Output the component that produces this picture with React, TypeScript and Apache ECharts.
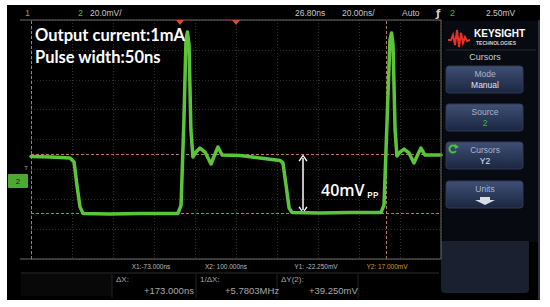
import React, { useEffect, useRef } from "react";
import * as echarts from "echarts";

// ---- data (time in ns, channel 2 voltage in mV) ----
const timeNs = [
  -73.2, -63.9, -54.2, -52.2, -50.8, -49.3, -47.8, -34.7, -20.0, -1.5,
  0.0, 1.4, 2.4, 3.1, 3.9, 4.8, 5.8, 7.3, 9.2, 11.7,
  14.6, 16.6, 18.0, 20.0, 28.8, 38.5, 48.3, 49.7, 51.2, 52.7,
  54.1, 67.8, 82.4, 97.5, 99.0, 100.5, 101.9, 102.7, 103.4, 104.4,
  105.3, 106.8, 108.8, 111.2, 113.6, 115.6, 117.0, 119.0, 126.8,
];
const ch2mV = [
  15.6, 15.3, 14.6, 11.9, -3.5, -18.2, -22.5, -22.9, -22.5, -22.5,
  -16.9, 40.0, 93.6, 99.0, 90.3, 33.4, 15.3, 18.6, 21.3, 18.6,
  10.6, 17.3, 22.0, 16.6, 16.3, 14.6, 12.9, 11.3, -3.5, -18.9,
  -21.9, -22.2, -21.9, -21.9, -16.9, 40.0, 93.6, 98.3, 90.3, 33.4,
  16.0, 18.6, 20.6, 18.0, 11.3, 17.3, 21.3, 16.6, 16.6,
];
const cursorXns = [-73, 100];
const cursorYmV = [-22.25, 17];
const xRange = [-73.2, 126.8];
const yRange = [-53, 107];
const nsPerDiv = 20;
const mVPerDiv = 20;
const arrowAt = { x: 59.5, top: 14.6, bottom: -20.2 };

const annotation = ["Output current:1mA", "Pulse width:50ns"];
const ppLabel = ["40mV", "PP"];
const headerLeft = ["1", "2", "20.0mV/"];
const headerRight = ["26.80ns", "20.00ns/", "Auto", "ƒ", "2", "2.50mV"];
const readouts = ["X1:-73.000ns", "X2: 100.000ns", "Y1: -22.250mV", "Y2: 17.000mV"];
const deltas = [
  ["ΔX:", "+173.000ns"],
  ["1/ΔX:", "+5.7803MHz"],
  ["ΔY(2):", "+39.250mV"],
];
const menuTitle = "Cursors";
const buttons = [
  ["Mode", "Manual"],
  ["Source", "2"],
  ["Cursors", "Y2"],
  ["Units", ""],
];

const UI = "Liberation Sans, Arial, sans-serif";
const GREEN = "#5cc43a";

function txt(x: number, y: number, text: string, size: number, fill: string, extra: any = {}) {
  const align = extra.align || "left";
  const valign = extra.valign || "middle";
  return {
    type: "text",
    x,
    y,
    z: 100,
    silent: true,
    style: {
      text,
      fill,
      fontSize: size,
      fontFamily: extra.family || UI,
      fontWeight: extra.weight || "normal",
      align,
      verticalAlign: valign,
      textAlign: align,
      textVerticalAlign: valign,
    },
  };
}

function line(x1: number, y1: number, x2: number, y2: number, stroke: string, w = 1, z = 50) {
  return { type: "line", z, silent: true, shape: { x1, y1, x2, y2 }, style: { stroke, lineWidth: w } };
}

export default function App() {
  const ref = useRef<HTMLDivElement>(null);
  useEffect(() => {
    if (!ref.current) return;
    const chart = echarts.init(ref.current, undefined, { renderer: "svg" });

    const g: any[] = [];
    // screen backdrop
    g.push({ type: "rect", z: -100, silent: true, shape: { x: 7, y: 5, width: 533, height: 295 }, style: { fill: "#000" } });
    // right panel
    g.push({ type: "rect", z: -90, silent: true, shape: { x: 443, y: 21, width: 96, height: 221 }, style: { fill: "#070a10" } });
    g.push(line(539, 20, 539, 300, "#5a5e66", 1, -80));
    g.push({ type: "rect", z: -90, silent: true, shape: { x: 441, y: 241, width: 88, height: 52, r: [0, 0, 4, 4] }, style: { fill: "#1a2030" } });
    // bottom area boxes
    g.push({ type: "rect", z: -90, silent: true, shape: { x: 21, y: 274, width: 91, height: 22 }, style: { fill: "#080808" } });
    g.push(line(21, 273, 439, 273, "#2c2c2c"));
    [112, 196, 277, 358].forEach((x) => g.push(line(x, 274, x, 298, "#222")));

    // grid frame
    g.push(line(20, 20, 441, 20, "#6a6a6a"));
    g.push(line(20, 259, 441, 259, "#6a6a6a"));
    g.push(line(441, 20, 441, 259, "#6a6a6a"));

    // header
    g.push(txt(25, 13, headerLeft[0], 9, "#9a9a40"));
    g.push(txt(78, 13, headerLeft[1], 9, "#3cba3c"));
    g.push(txt(90, 13, headerLeft[2], 8.5, "#c8c8c8"));
    g.push(txt(295, 13, headerRight[0], 8.5, "#c8c8c8"));
    g.push(txt(342, 13, headerRight[1], 8.5, "#c8c8c8"));
    g.push(txt(402, 13, headerRight[2], 8.5, "#c8c8c8"));
    g.push(txt(436, 13, headerRight[3], 10, "#d0d0d0", { family: "DejaVu Sans, sans-serif", weight: "bold" }));
    g.push(txt(450, 13, headerRight[4], 9, "#3cba3c"));
    g.push(txt(486, 13, headerRight[5], 8.5, "#c8c8c8"));

    // top markers
    [180, 236].forEach((x) =>
      g.push({ type: "polygon", z: 60, silent: true, shape: { points: [[x - 4, 20], [x + 4, 20], [x, 25]] }, style: { fill: "#d0502a" } })
    );

    // ground / trigger marker on left
    g.push({ type: "rect", z: 60, silent: true, shape: { x: 8, y: 174, width: 20, height: 14, r: 1 }, style: { fill: "#4caa30" } });
    g.push(txt(18, 181, "2", 8, "#0d2a08", { align: "center" }));
    g.push(txt(26, 168, "T", 6, "#9a9a9a", { align: "center" }));

    // annotations
    g.push(txt(35, 35, annotation[0], 16.5, "#ffffff", { family: "Lato, sans-serif", weight: "bold" }));
    g.push(txt(35, 57, annotation[1], 16.5, "#ffffff", { family: "Lato, sans-serif", weight: "bold" }));
    g.push(txt(321, 190, ppLabel[0], 16, "#ffffff", { family: "Open Sans, sans-serif", weight: "600" }));
    g.push(txt(367, 194, ppLabel[1], 9.5, "#ffffff", { family: "Open Sans, sans-serif", weight: "600" }));

    // cursor readouts
    g.push(txt(151, 266, readouts[0], 6.5, "#b8b8b8", { align: "center" }));
    g.push(txt(226, 266, readouts[1], 6.5, "#b8b8b8", { align: "center" }));
    g.push(txt(316, 266, readouts[2], 6.5, "#b8b8b8", { align: "center" }));
    g.push(txt(387, 266, readouts[3], 6.5, "#d8962e", { align: "center" }));
    const dx = [116, 200, 281];
    const vx = [144, 225, 309];
    deltas.forEach((d, i) => {
      g.push(txt(dx[i], 279, d[0], 8, "#a8a8a8"));
      g.push(txt(vx[i], 290, d[1], 9.5, "#a8a8a8"));
    });

    // Keysight logo
    g.push({
      type: "polyline", z: 60, silent: true,
      shape: { points: [[448, 40], [451, 40], [453, 35], [455, 45], [457, 30], [459, 47], [461, 33], [463, 43], [465, 37], [467, 41], [470, 40]] },
      style: { stroke: "#e8302a", lineWidth: 2, fill: null },
    });
    g.push(txt(474, 33, "KEYSIGHT", 10, "#ffffff", { weight: "bold" }));
    g.push(txt(476, 43, "TECHNOLOGIES", 5, "#d0d0d0", { weight: "bold" }));
    g.push(line(446, 50, 536, 50, "#262b36"));
    g.push(txt(485, 57, menuTitle, 9, "#c8ccd4", { align: "center" }));

    const tops = [66, 104, 142, 181];
    buttons.forEach((b, i) => {
      const t = tops[i];
      g.push({
        type: "rect", z: 40, silent: true,
        shape: { x: 446, y: t, width: 77, height: 27, r: 3 },
        style: {
          fill: new echarts.graphic.LinearGradient(0, 0, 0, 1, [
            { offset: 0, color: "#3f5075" },
            { offset: 1, color: "#1b2640" },
          ]),
          stroke: "#2e3a55",
          lineWidth: 1,
        },
      });
      g.push(txt(485, t + 8, b[0], 8.5, "#aab4c8", { align: "center" }));
      if (b[1]) g.push(txt(485, t + 19, b[1], 8.5, i === 1 ? "#3cba3c" : "#e0e4ec", { align: "center" }));
    });
    // cursor knob icon
    g.push({ type: "arc", z: 60, silent: true, shape: { cx: 453, cy: 149, r: 3.5, startAngle: 0.6, endAngle: 5.6 }, style: { stroke: "#4cc23a", lineWidth: 2, fill: null } });
    g.push({ type: "polygon", z: 60, silent: true, shape: { points: [[455, 144], [459, 147], [455, 149]] }, style: { fill: "#4cc23a" } });
    // down arrow in Units
    g.push({
      type: "polygon", z: 60, silent: true,
      shape: { points: [[480, 197], [490, 197], [490, 200], [495, 200], [485, 205], [475, 200], [480, 200]] },
      style: { fill: "#d8dce4" },
    });

    const chevron = "path://M0,8 L5,0 L10,8 L8.6,9 L5,2.4 L1.4,9 Z";

    const option: any = {
      animation: false,
      backgroundColor: "#ffffff",
      grid: { left: 31, top: 20, width: 410, height: 239 },
      xAxis: {
        type: "value", min: xRange[0], max: xRange[1], interval: nsPerDiv,
        axisLine: { show: false }, axisTick: { show: false }, axisLabel: { show: false },
        splitLine: { show: true, lineStyle: { color: "#2e2e2e", type: [1, 2], width: 1 } },
      },
      yAxis: {
        type: "value", min: yRange[0], max: yRange[1], interval: mVPerDiv,
        axisLine: { show: false }, axisTick: { show: false }, axisLabel: { show: false },
        splitLine: { show: true, lineStyle: { color: "#2e2e2e", type: [1, 2], width: 1 } },
      },
      series: [
        {
          type: "line",
          data: timeNs.map((t, i) => [t, ch2mV[i]]),
          showSymbol: false,
          symbol: "none",
          z: 5,
          lineStyle: { color: GREEN, width: 3.5, join: "round", cap: "round" },
          markLine: {
            silent: true,
            symbol: ["none", "none"],
            label: { show: false },
            lineStyle: { color: "#b4785c", type: [3, 2], width: 1 },
            data: [
              { xAxis: cursorXns[0] },
              { xAxis: cursorXns[1] },
              { yAxis: cursorYmV[0] },
              { yAxis: cursorYmV[1] },
            ],
          },
        },
        {
          type: "line",
          data: [],
          z: 6,
          markLine: {
            silent: true,
            symbol: [chevron, chevron],
            symbolSize: [9, 7],
            label: { show: false },
            lineStyle: { color: "#ffffff", type: "solid", width: 1.5 },
            data: [[{ coord: [arrowAt.x, arrowAt.top] }, { coord: [arrowAt.x, arrowAt.bottom] }]],
          },
        },
      ],
      graphic: { elements: g },
    };
    chart.setOption(option);
    return () => chart.dispose();
  }, []);

  return <div ref={ref} style={{ position: "fixed", left: 0, top: 0, width: 550, height: 307 }} />;
}
